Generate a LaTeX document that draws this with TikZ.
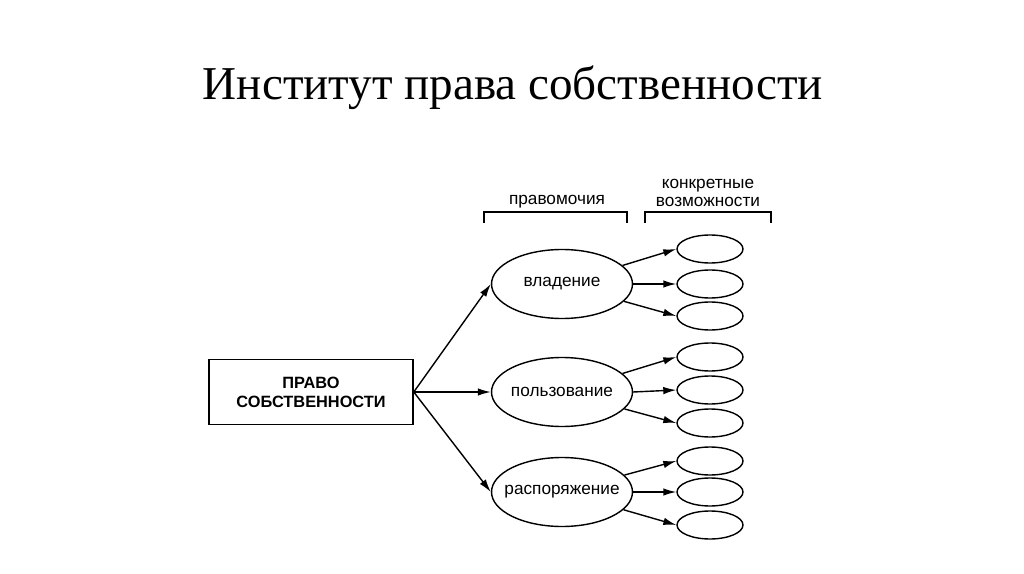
\documentclass[tikz,border=0pt]{standalone}
\usepackage{fontspec}
\setmainfont{Liberation Serif}
\newfontfamily\labelfont{Liberation Sans}
\usepackage{tikz}
\usetikzlibrary{arrows.meta,shapes.geometric}

\begin{document}
\begin{tikzpicture}[
  x=0.02cm, y=-0.02cm,
  every node/.style={font=\labelfont\fontsize{9.8}{11}\selectfont},
  rootbox/.style={draw, line width=0.9pt, minimum width=4.08cm, minimum height=1.3cm, align=center, inner sep=0pt, font=\labelfont\bfseries\fontsize{9.3}{10.8}\selectfont},
  rightell/.style={draw, ellipse, line width=0.8pt, minimum width=2.82cm, minimum height=1.38cm, inner sep=0pt},
  chanceell/.style={draw, ellipse, line width=0.8pt, minimum width=1.32cm, minimum height=0.56cm, inner sep=0pt},
  arrow/.style={-{Latex[length=2.6mm,width=1.5mm]}, line width=0.8pt},
  bracket/.style={line width=0.8pt}
]
\useasboundingbox (0,0) rectangle (1024,574);
\node[anchor=base, font=\fontsize{26.8}{30}\selectfont] (title) at (513,100) {Институт права собственности};
\node[rootbox] (root) at (311,392) {ПРАВО\\СОБСТВЕННОСТИ};
\node[rightell] (own) at (562,284) {\makebox[0pt]{владение}};
\node[rightell] (use) at (562,392) {\makebox[0pt]{пользование}};
\node[rightell] (disp) at (562,492) {\makebox[0pt]{распоряжение}};
\node[chanceell] (own1) at (710,249) {};
\node[chanceell] (own2) at (710,284) {};
\node[chanceell] (own3) at (710,316) {};
\node[chanceell] (use1) at (710,357) {};
\node[chanceell] (use2) at (710,390) {};
\node[chanceell] (use3) at (710,423) {};
\node[chanceell] (disp1) at (710,461) {};
\node[chanceell] (disp2) at (710,492) {};
\node[chanceell] (disp3) at (710,525) {};
\node (rightslbl) at (557,202) {правомочия};
\node[align=center, font=\labelfont\fontsize{9.8}{10}\selectfont] (chanceslbl) at (708,193) {конкретные\\возможности};
% brackets over the columns
\draw[bracket] (484,223) -- (484,212) -- (627,212) -- (627,223);
\draw[bracket] (645,223) -- (645,212) -- (771,212) -- (771,223);
\draw[arrow] (root.east) -- (own.west);
\draw[arrow] (root.east) -- (use.west);
\draw[arrow] (root.east) -- (disp.west);
\draw[arrow] (own) -- (own1.west);
\draw[arrow] (own) -- (own2.west);
\draw[arrow] (own) -- (own3.west);
\draw[arrow] (use) -- (use1.west);
\draw[arrow] (use.east) -- (use2.west);
\draw[arrow] (use) -- (use3.west);
\draw[arrow] (disp) -- (disp1.west);
\draw[arrow] (disp) -- (disp2.west);
\draw[arrow] (disp) -- (disp3.west);
\end{tikzpicture}
\end{document}
